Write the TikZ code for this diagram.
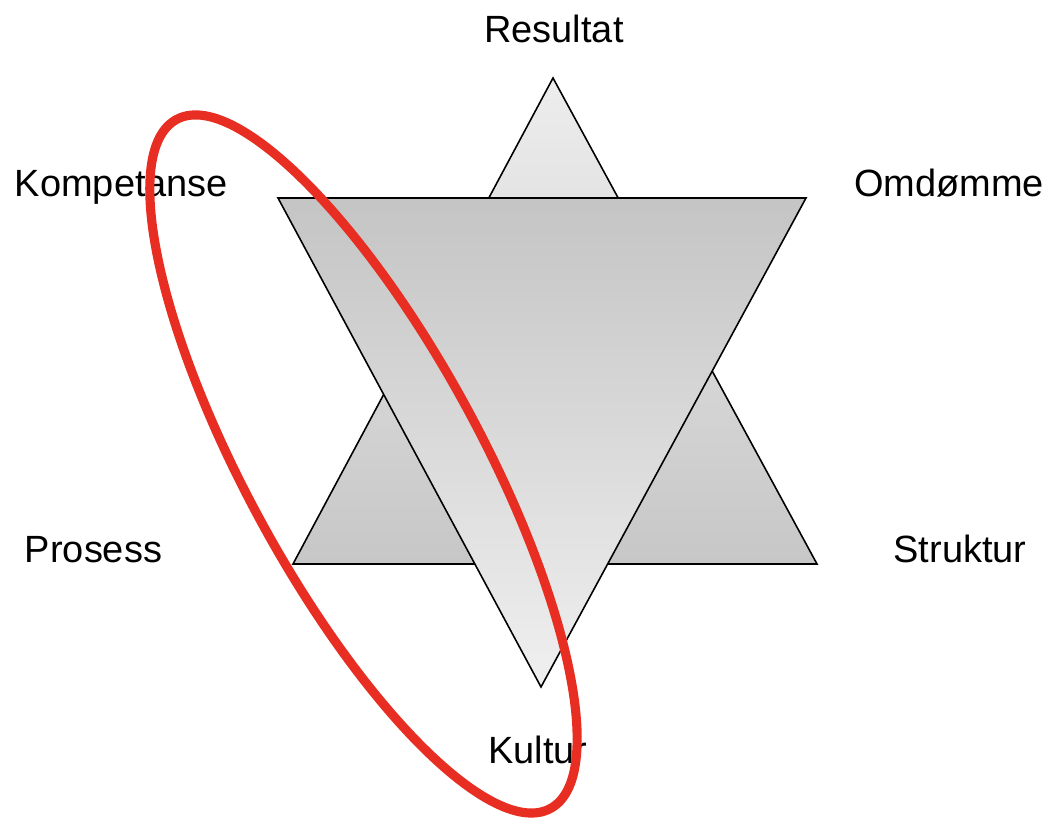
\documentclass[tikz,border=0pt]{standalone}
\usepackage{fontspec}
\setmainfont{Liberation Sans}
\usepackage{tikz}
\usetikzlibrary{positioning}
\definecolor{ringred}{RGB}{232,46,34}
\tikzset{
    label/.style={anchor=base, inner sep=0pt, font=\fontsize{21.6}{26}\selectfont},
    uptri/.style={draw=black, line width=0.9pt, line join=miter, top color=gray!14, bottom color=gray!44},
    downtri/.style={draw=black, line width=0.9pt, line join=miter, top color=gray!46, bottom color=gray!12},
    ring/.style={draw=ringred, line width=5.2pt}
}

\begin{document}
\begin{tikzpicture}
    \useasboundingbox (0,0) rectangle (21.12,16.42);

    % corners
    \coordinate (uA) at (11.06,14.86);
    \coordinate (uL) at (5.86,5.14);
    \coordinate (uR) at (16.34,5.14);
    \coordinate (dL) at (5.56,12.46);
    \coordinate (dR) at (16.12,12.46);
    \coordinate (dA) at (10.82,2.68);
    \coordinate (ringC) at (7.27,7.14);

    % triangles
    \path[uptri] (uA) -- (uR) -- (uL) -- cycle;
    \path[downtri] (dL) -- (dR) -- (dA) -- cycle;

    % labels
    \node[label] (res) at (11.08,15.56) {Resultat};
    \node[label] (komp) at (2.43,12.48) {Kompetanse};
    \node[label] (omd) at (18.98,12.48) {Omdømme};
    \node[label] (pros) at (1.87,5.16) {Prosess};
    \node[label] (struk) at (19.20,5.16) {Struktur};
    \node[label] (kult) at (10.76,1.14) {Kultur};

    % ring
    \draw[ring, rotate around={-61.5:(ringC)}] (ringC) ellipse [x radius=7.84, y radius=2.35];
\end{tikzpicture}
\end{document}
